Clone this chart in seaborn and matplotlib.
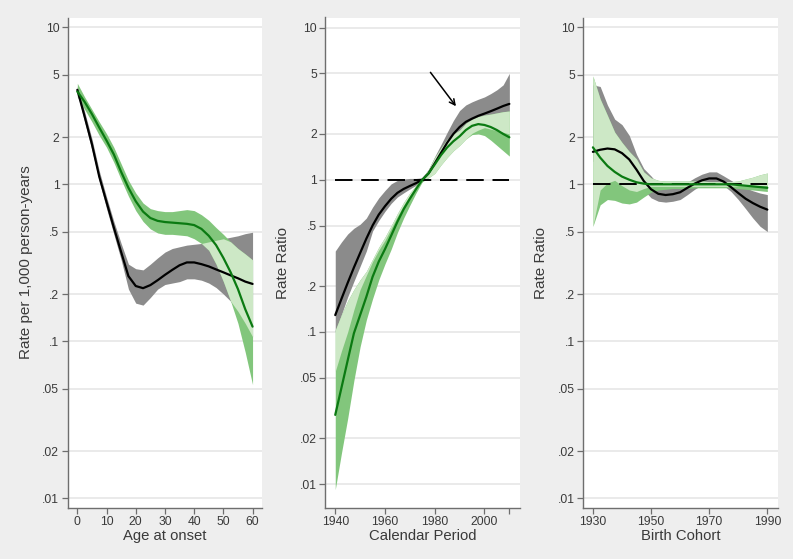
import numpy as np
import pandas as pd
import matplotlib
matplotlib.use("Agg")
import matplotlib.pyplot as plt
import seaborn as sns

nan = np.nan

# ---------------- Panel 1: Age at onset ----------------
age = [0, 2.5, 5, 7.5, 10, 12.5, 15, 17.5, 20, 22.5, 25, 27.5, 30, 32.5, 35,
       37.5, 40, 42.5, 45, 47.5, 50, 52.5, 55, 57.5, 60]
age_black = [4.0, 2.7, 1.8, 1.12, 0.77, 0.53, 0.37, 0.26, 0.225, 0.218, 0.228, 0.245,
             0.265, 0.285, 0.305, 0.318, 0.318, 0.31, 0.30, 0.287, 0.275, 0.263, 0.252, 0.24, 0.232]
age_gray_lo = [3.8, 2.5, 1.65, 1.05, 0.7, 0.48, 0.33, 0.215, 0.175, 0.17, 0.19, 0.215,
               0.23, 0.235, 0.24, 0.25, 0.25, 0.245, 0.235, 0.22, 0.2, 0.18, 0.155, 0.13, 0.107]
age_gray_hi = [4.2, 2.9, 1.95, 1.22, 0.83, 0.58, 0.42, 0.31, 0.29, 0.285, 0.31, 0.34,
               0.37, 0.39, 0.40, 0.41, 0.415, 0.42, 0.43, 0.44, 0.45, 0.46, 0.47, 0.485, 0.495]
age_green = [3.9, 3.35, 2.8, 2.3, 1.9, 1.55, 1.2, 0.95, 0.78, 0.67, 0.61, 0.585,
             0.575, 0.57, 0.565, 0.56, 0.55, 0.52, 0.47, 0.41, 0.34, 0.275, 0.215, 0.16, 0.124]
age_green_lo = [3.6, 3.0, 2.5, 2.05, 1.72, 1.38, 1.07, 0.84, 0.68, 0.58, 0.52, 0.49,
                0.48, 0.48, 0.475, 0.47, 0.45, 0.42, 0.38, 0.31, 0.24, 0.18, 0.13, 0.085, 0.053]
age_green_hi = [4.4, 3.6, 3.0, 2.5, 2.1, 1.72, 1.35, 1.06, 0.88, 0.76, 0.70, 0.68,
                0.67, 0.67, 0.68, 0.69, 0.68, 0.64, 0.59, 0.53, 0.48, 0.43, 0.39, 0.36, 0.33]
age_light_lo = [nan] * 17 + [0.42, 0.38, 0.31, 0.24, 0.18, 0.155, 0.13, 0.107]
age_light_hi = [nan] * 17 + [0.42, 0.43, 0.44, 0.45, 0.43, 0.39, 0.36, 0.33]

# ---------------- Panel 2: Calendar Period ----------------
period = [1940, 1942.5, 1945, 1947.5, 1950, 1952.5, 1955, 1957.5, 1960, 1962.5, 1965,
          1967.5, 1970, 1972.5, 1975, 1977.5, 1980, 1982.5, 1985, 1987.5, 1990, 1992.5,
          1995, 1997.5, 2000, 2002.5, 2005, 2007.5, 2010]
per_black = [0.129, 0.165, 0.21, 0.265, 0.33, 0.41, 0.50, 0.59, 0.67, 0.75, 0.82, 0.87,
             0.91, 0.95, 1.0, 1.1, 1.28, 1.5, 1.75, 2.0, 2.22, 2.4, 2.52, 2.63, 2.72, 2.82,
             2.93, 3.05, 3.15]
per_gray_lo = [0.10, 0.13, 0.17, 0.215, 0.27, 0.34, 0.46, 0.54, 0.62, 0.70, 0.77, 0.82,
               0.87, 0.92, 0.97, 1.05, 1.2, 1.38, 1.58, 1.8, 2.05, 2.2, 2.35, 2.45, 2.55,
               2.62, 2.68, 2.75, 2.8]
per_gray_hi = [0.34, 0.39, 0.44, 0.48, 0.51, 0.56, 0.66, 0.76, 0.85, 0.94, 0.99, 1.01,
               1.02, 1.02, 1.03, 1.17, 1.42, 1.7, 2.05, 2.45, 2.85, 3.1, 3.25, 3.38, 3.5,
               3.68, 3.9, 4.2, 5.0]
per_green = [0.0285, 0.043, 0.065, 0.098, 0.129, 0.17, 0.23, 0.29, 0.35, 0.43, 0.53,
             0.64, 0.75, 0.87, 1.0, 1.1, 1.26, 1.45, 1.63, 1.79, 1.93, 2.12, 2.26, 2.32,
             2.29, 2.22, 2.12, 2.0, 1.9]
per_green_lo = [0.0092, 0.016, 0.027, 0.048, 0.08, 0.12, 0.165, 0.22, 0.28, 0.35, 0.45,
                0.56, 0.68, 0.82, 0.97, 1.03, 1.1, 1.25, 1.4, 1.55, 1.68, 1.85, 1.98, 2.0,
                1.95, 1.82, 1.68, 1.55, 1.43]
per_green_hi = [0.103, 0.13, 0.16, 0.19, 0.22, 0.25, 0.30, 0.36, 0.42, 0.50, 0.60, 0.71,
                0.82, 0.92, 1.03, 1.17, 1.4, 1.62, 1.85, 2.0, 2.12, 2.35, 2.5, 2.6, 2.66,
                2.7, 2.75, 2.8, 2.83]
per_light_lo = [0.055, 0.075, 0.10, 0.14, 0.19, 0.235, 0.29, 0.345, 0.40, 0.48, 0.575,
                0.68, 0.79, 0.90, 1.0, 1.03, 1.1, 1.25, 1.4, 1.55, 1.68, 1.85, 2.02, 2.12,
                2.2, 2.15, 2.1, 2.05, 2.0]
per_light_hi = per_green_hi

# ---------------- Panel 3: Birth Cohort ----------------
cohort = [1930, 1932.5, 1935, 1937.5, 1940, 1942.5, 1945, 1947.5, 1950, 1952.5, 1955,
          1957.5, 1960, 1962.5, 1965, 1967.5, 1970, 1972.5, 1975, 1977.5, 1980, 1982.5,
          1985, 1987.5, 1990]
coh_black = [1.61, 1.66, 1.69, 1.67, 1.58, 1.44, 1.24, 1.05, 0.93, 0.87, 0.855, 0.865,
             0.89, 0.95, 1.01, 1.06, 1.09, 1.09, 1.04, 0.96, 0.88, 0.81, 0.76, 0.72, 0.69]
coh_gray_lo = [1.4, 1.42, 1.45, 1.42, 1.35, 1.2, 1.05, 0.92, 0.82, 0.78, 0.77, 0.78,
               0.80, 0.86, 0.93, 0.99, 1.03, 1.03, 0.98, 0.90, 0.80, 0.70, 0.61, 0.54, 0.50]
coh_gray_hi = [4.3, 4.2, 3.2, 2.6, 2.4, 2.05, 1.55, 1.26, 1.13, 1.0, 0.95, 0.95, 0.97,
               1.03, 1.1, 1.16, 1.2, 1.2, 1.13, 1.06, 1.0, 0.95, 0.91, 0.88, 0.86]
coh_green = [1.72, 1.48, 1.31, 1.2, 1.12, 1.07, 1.03, 1.01, 1.0, 1.0, 1.0, 1.0, 1.0,
             1.0, 1.0, 1.0, 1.0, 1.0, 1.0, 1.0, 0.99, 0.98, 0.97, 0.96, 0.95]
coh_green_lo = [0.54, 0.74, 0.80, 0.79, 0.76, 0.75, 0.77, 0.83, 0.89, 0.92, 0.93, 0.94,
                0.94, 0.94, 0.95, 0.95, 0.95, 0.95, 0.95, 0.95, 0.94, 0.93, 0.92, 0.91, 0.90]
coh_green_hi = [4.9, 3.5, 2.75, 2.15, 1.85, 1.62, 1.45, 1.2, 1.1, 1.06, 1.05, 1.05, 1.05,
                1.05, 1.05, 1.05, 1.04, 1.04, 1.04, 1.04, 1.05, 1.08, 1.11, 1.15, 1.18]
coh_light_lo = [0.54, 0.92, 1.02, 1.06, 0.98, 0.92, 0.90, 0.94, 0.97, 0.97, 0.97, 0.97,
                0.97, 0.97, 0.97, 0.97, 0.97, 0.97, 0.97, 0.97, 0.98, 0.98, 0.98, 0.98, 0.98]
coh_light_hi = coh_green_hi

y_ticks = [10, 5, 2, 1, 0.5, 0.2, 0.1, 0.05, 0.02, 0.01]
y_ticklabels = ["10", "5", "2", "1", ".5", ".2", ".1", ".05", ".02", ".01"]

C_GRAY = "#8b8b8b"
C_MED = "#82c67c"
C_LIGHT = "#cde8c6"
C_GREEN = "#0b7a12"
BG = "#eeeeee"

sns.set_theme(style="white")
plt.rcParams["font.family"] = ["Liberation Sans", "DejaVu Sans"]

fig = plt.figure(figsize=(7.93, 5.59), dpi=100, facecolor=BG)

panels = [
    dict(x=age, black=age_black, glo=age_gray_lo, ghi=age_gray_hi, green=age_green,
         mlo=age_green_lo, mhi=age_green_hi, llo=age_light_lo, lhi=age_light_hi,
         xlim=(-3.3, 63.3), ylim=(0.00871, 11.55), xticks=[0, 10, 20, 30, 40, 50, 60],
         xticklabels=["0", "10", "20", "30", "40", "50", "60"],
         xlabel="Age at onset", ylabel="Rate per 1,000 person-years",
         left=67.7, ref=False),
    dict(x=period, black=per_black, glo=per_gray_lo, ghi=per_gray_hi, green=per_green,
         mlo=per_green_lo, mhi=per_green_hi, llo=per_light_lo, lhi=per_light_hi,
         xlim=(1936.0, 2014.2), ylim=(0.0070, 11.64),
         xticks=[1940, 1960, 1980, 2000, 2010],
         xticklabels=["1940", "1960", "1980", "2000", ""],
         xlabel="Calendar Period", ylabel="Rate Ratio", left=325.3, ref=True),
    dict(x=cohort, black=coh_black, glo=coh_gray_lo, ghi=coh_gray_hi, green=coh_green,
         mlo=coh_green_lo, mhi=coh_green_hi, llo=coh_light_lo, lhi=coh_light_hi,
         xlim=(1926.7, 1993.6), ylim=(0.00871, 11.55), xticks=[1930, 1950, 1970, 1990],
         xticklabels=["1930", "1950", "1970", "1990"],
         xlabel="Birth Cohort", ylabel="Rate Ratio", left=583.3, ref=True),
]

W, H = 793.0, 559.0
for p in panels:
    ax = fig.add_axes([p["left"] / W, 51.3 / H, 194.5 / W, 490.2 / H])
    ax.set_facecolor("white")
    x = np.array(p["x"], dtype=float)
    ax.fill_between(x, p["glo"], p["ghi"], color=C_GRAY, lw=0, zorder=2)
    ax.fill_between(x, p["mlo"], p["mhi"], color=C_MED, lw=0, zorder=3)
    ax.fill_between(x, np.array(p["llo"], dtype=float), np.array(p["lhi"], dtype=float),
                    color=C_LIGHT, lw=0, zorder=4)
    if p["ref"]:
        ax.plot([x[0], x[-1]], [1, 1], color="black", lw=1.4, dashes=(9, 4.5), zorder=5)
    df = pd.DataFrame({"x": x, "black": p["black"], "green": p["green"]})
    sns.lineplot(data=df, x="x", y="black", ax=ax, color="black", lw=1.6, zorder=6)
    sns.lineplot(data=df, x="x", y="green", ax=ax, color=C_GREEN, lw=1.6, zorder=7)
    ax.set_yscale("log")
    ax.set_xlim(*p["xlim"])
    ax.set_ylim(*p["ylim"])
    ax.set_yticks(y_ticks)
    ax.set_yticklabels(y_ticklabels)
    ax.minorticks_off()
    ax.set_xticks(p["xticks"])
    ax.set_xticklabels(p["xticklabels"])
    ax.yaxis.grid(True, color="#e4e4e4", lw=1.1, zorder=0)
    ax.xaxis.grid(False)
    ax.set_axisbelow(True)
    for s in ["top", "right"]:
        ax.spines[s].set_visible(False)
    for s in ["left", "bottom"]:
        ax.spines[s].set_color("#6e6e6e")
        ax.spines[s].set_linewidth(1.0)
    ax.tick_params(axis="both", which="major", direction="out", length=4, width=0.9,
                   color="#6e6e6e", labelsize=8.7, labelcolor="#3a3a3a", pad=2,
                   left=True, bottom=True)
    ax.set_xlabel(p["xlabel"], fontsize=10.7, color="#3a3a3a", labelpad=1)
    ax.set_ylabel(p["ylabel"], fontsize=11, color="#3a3a3a", labelpad=7)
    if p["xlabel"] == "Calendar Period":
        ax.annotate("", xy=(1989.2, 2.94), xytext=(1977.6, 5.25),
                    arrowprops=dict(arrowstyle="->", color="black", lw=1.1,
                                    mutation_scale=10), zorder=8)

fig.savefig("out.png", dpi=100, facecolor=BG)
